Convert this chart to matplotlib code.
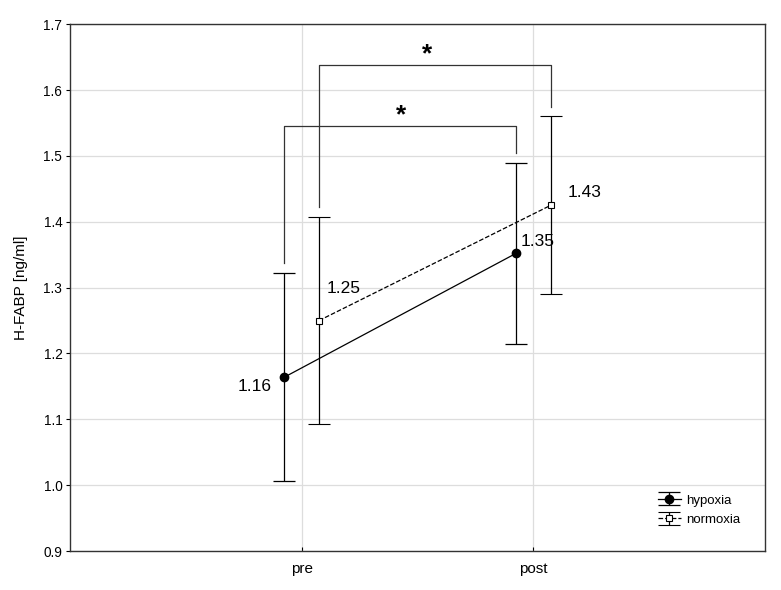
import matplotlib
matplotlib.use('Agg')
from matplotlib import pyplot as plt
import numpy as np

plt.rcParams['font.family'] = ['Liberation Sans', 'DejaVu Sans']

# ---------- data ---------------------------------
phases = ['pre', 'post']
hypoxia_mean = [1.164, 1.352]
hypoxia_err = [0.158, 0.137]
normoxia_mean = [1.250, 1.425]
normoxia_err = [0.157, 0.135]
hypoxia_labels = ['1.16', '1.35']
normoxia_labels = ['1.25', '1.43']

x = np.arange(1, len(phases) + 1)
off = 0.075
xh = x - off
xn = x + off

fig = plt.figure(figsize=(7.81, 5.90), dpi=100)
ax = fig.add_axes([0.0896, 0.066, 0.890, 0.893])

ax.errorbar(xh, hypoxia_mean, yerr=hypoxia_err, color='black', lw=0.9,
            marker='o', ms=6, mfc='black', capsize=8, elinewidth=0.9,
            capthick=0.9, label='hypoxia', zorder=3)
ax.errorbar(xn, normoxia_mean, yerr=normoxia_err, color='black', lw=0.9,
            ls='--', marker='s', ms=5, mfc='white', mew=0.8, capsize=8,
            elinewidth=0.9, capthick=0.9, label='normoxia', zorder=3)

# value labels
ax.text(xh[0] - 0.053, hypoxia_mean[0] - 0.014, hypoxia_labels[0], ha='right', va='center', fontsize=12.5)
ax.text(xn[0] + 0.034, normoxia_mean[0] + 0.048, normoxia_labels[0], ha='left', va='center', fontsize=12.5)
ax.text(xh[1] + 0.021, hypoxia_mean[1] + 0.018, hypoxia_labels[1], ha='left', va='center', fontsize=12.5)
ax.text(xn[1] + 0.074, normoxia_mean[1] + 0.02, normoxia_labels[1], ha='left', va='center', fontsize=12.5)

# significance brackets
def bracket(x1, y1, x2, y2, top, star_x):
    ax.plot([x1, x1, x2, x2], [y1, top, top, y2], color='#333333', lw=0.9)
    ax.text(star_x, top - 0.002, '*', ha='center', va='bottom', fontsize=19, fontweight='bold')

gap = 0.015
bracket(xh[0], hypoxia_mean[0] + hypoxia_err[0] + gap,
        xh[1], hypoxia_mean[1] + hypoxia_err[1] + gap, 1.545, 1.43)
bracket(xn[0], normoxia_mean[0] + normoxia_err[0] + gap,
        xn[1], normoxia_mean[1] + normoxia_err[1] + gap, 1.638, 1.54)

ax.set_xlim(0, 3)
ax.set_ylim(0.9, 1.7)
ax.set_xticks(x)
ax.set_xticklabels(phases, fontsize=11)
ax.set_yticks(np.arange(0.9, 1.71, 0.1))
ax.set_yticklabels([f'{v:.1f}' for v in np.arange(0.9, 1.71, 0.1)], fontsize=9.8)
ax.tick_params(axis='x', direction='in', length=3, width=0.8, pad=8)
ax.tick_params(axis='y', direction='out', length=3, width=0.8, pad=2.5)
ax.set_ylabel('H-FABP [ng/ml]', fontsize=11, labelpad=11)
ax.grid(True, color='#dddddd', lw=0.9)
ax.set_axisbelow(True)
for s in ax.spines.values():
    s.set_color('#333333')
    s.set_linewidth(1.0)

ax.legend(loc='lower right', bbox_to_anchor=(0.982, 0.025), frameon=False,
          fontsize=9.5, handlelength=1.8, handletextpad=0.4, labelspacing=0.55)

plt.savefig('out.png', dpi=100)
